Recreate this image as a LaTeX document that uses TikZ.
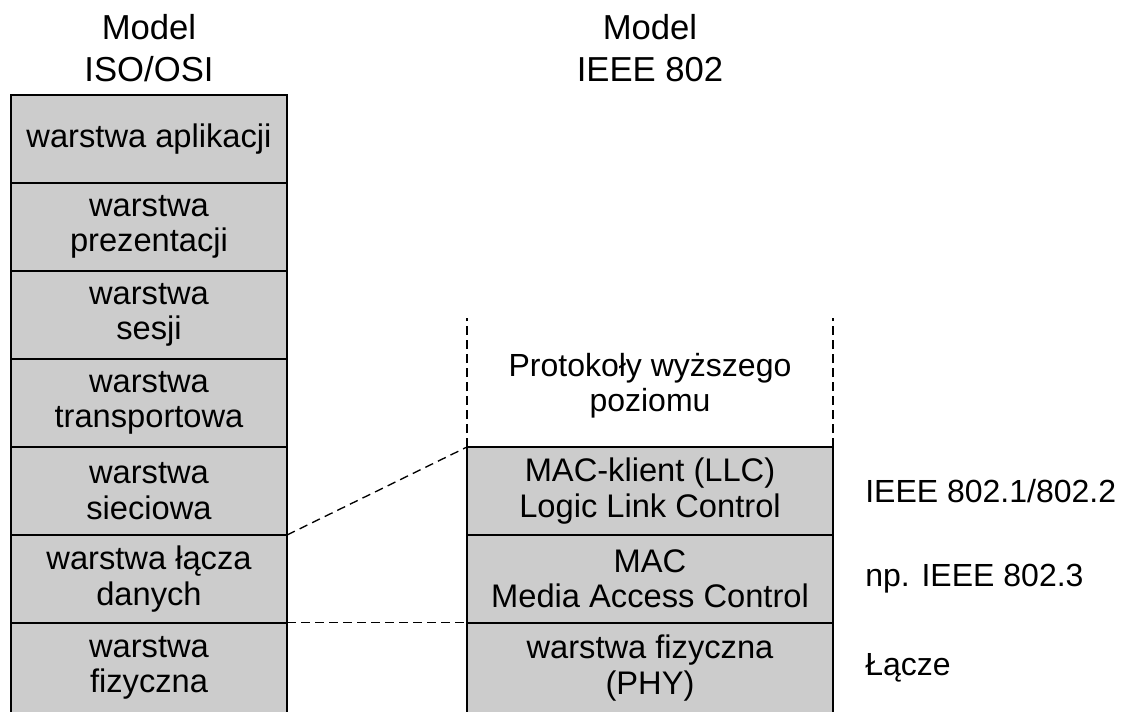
\documentclass[tikz,border=0pt]{standalone}
\usepackage{fontspec}
\setmainfont{Liberation Sans}
\usetikzlibrary{positioning}

\tikzset{
  layer/.style={draw, line width=1.5pt, fill=black!20, align=center, inner sep=0pt, outer sep=0pt,
    minimum height=66pt, font=\fontsize{24.5}{26.5}\selectfont},
  osilayer/.style={layer, minimum width=207pt},
  ieeelayer/.style={layer, minimum width=274.5pt},
  title/.style={align=center, font=\fontsize{26}{32}\selectfont},
  sidelabel/.style={inner sep=0pt, font=\fontsize{24}{26.5}\selectfont},
  link/.style={dash pattern=on 6.5pt off 4pt, line width=1pt}
}

\begin{document}
\begin{tikzpicture}[x=0.75pt,y=-0.75pt]
    \useasboundingbox (0,0) rectangle (1124,711);

    \node[title] (isotitle) at (149,48) {Model\\ISO/OSI};
    \node[title] (ieeetitle) at (650,48) {Model\\IEEE 802};

    % stos ISO/OSI
    \foreach \n/\txt in {0/{warstwa aplikacji},1/{warstwa\\prezentacji},2/{warstwa\\sesji},
                         3/{warstwa\\transportowa},4/{warstwa\\sieciowa},5/{warstwa łącza\\danych}}
    	\node[osilayer] (osi\n) at (149,139+88*\n) {\txt};
    \node[osilayer, minimum height=68pt] (osi6) at (149,668) {warstwa\\fizyczna};

    % stos IEEE 802
    \node[ieeelayer] (llc) at (650,491) {MAC-klient (LLC)\\Logic Link Control};
    \node[ieeelayer] (mac) at (650,579) {MAC\\Media Access Control};
    \node[ieeelayer, minimum height=68pt] (phy) at (650,668) {warstwa fizyczna\\(PHY)};

    \coordinate (upl) at (467,318);
    \coordinate (upr) at (833,318);
    \draw [link] (llc.north west) -- (upl);
    \draw [link] (llc.north east) -- (upr);
    \node[sidelabel, align=center] (upper) at (650,386) {Protokoły wyższego\\poziomu};

    \draw [link] (osi5.north east) -- (llc.north west);
    \draw [link] (osi6.north east) -- (phy.north west);

    \node[sidelabel, right=24pt of llc] (std1) {IEEE 802.1/802.2};
    \node[sidelabel, right=24pt of mac] (std2) {np. IEEE 802.3};
    \node[sidelabel, right=24pt of phy] (std3) {Łącze};
\end{tikzpicture}
\end{document}
